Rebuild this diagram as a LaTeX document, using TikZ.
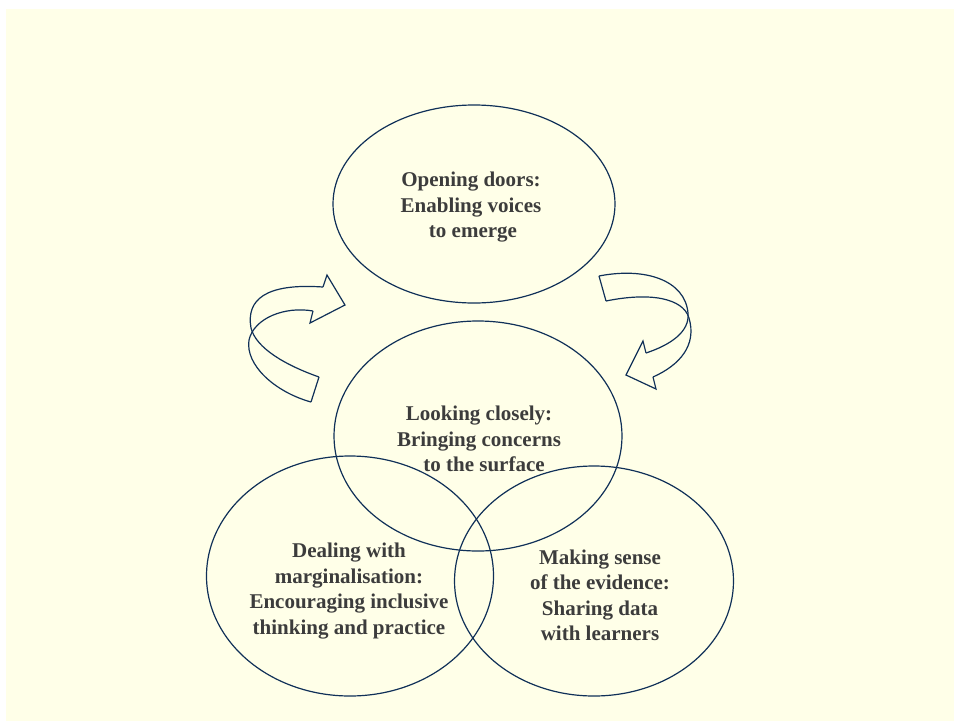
\documentclass[tikz,border=0pt]{standalone}
\usepackage{fontspec}
\setmainfont{Liberation Serif}
\usetikzlibrary{shapes.geometric}
\definecolor{bgyellow}{RGB}{255,255,232}
\definecolor{navy}{RGB}{16,48,88}
\definecolor{txtgray}{RGB}{60,60,60}
\tikzset{
  ring/.style={ellipse, draw=navy, line width=1.2pt, inner sep=0pt, outer sep=0pt},
  label/.style={align=center, text=txtgray, inner sep=0pt, font=\fontsize{21}{25.5}\selectfont\bfseries},
  arrowline/.style={draw=navy, line width=1.2pt, line join=miter}
}
\begin{document}
\begin{tikzpicture}[x=1pt,y=-1pt]
\useasboundingbox (0,0) rectangle (954,721);
\fill[bgyellow] (6,9) rectangle (954,721);
% ellipses
\node[ring, minimum width=282pt, minimum height=198pt] (top) at (474,204) {};
\node[ring, minimum width=288pt, minimum height=230pt] (mid) at (478,436) {};
\node[ring, minimum width=287pt, minimum height=240pt] (bl) at (350,576) {};
\node[ring, minimum width=279pt, minimum height=230pt] (br) at (594,581) {};
% texts
\node[label] (ttop) at (471,207.5) {Opening doors:\\Enabling voices\\\hspace*{4pt}to emerge};
\node[label] (tmid) at (479,439) {Looking closely:\\Bringing concerns\\\hspace*{10pt}to the surface};
\node[label] (tbl) at (349,591) {Dealing with\\marginalisation:\\Encouraging inclusive\\thinking and practice};
\node[label] (tbr) at (600,595.5) {Making sense\\of the evidence:\\Sharing data\\with learners};
% left curved arrow
\draw[arrowline] (319,377) -- (311,402);
\draw[arrowline] (323,287) .. controls (265,283) and (246,300) .. (251,328)
                           .. controls (256,348) and (285,365) .. (319,377);
\draw[arrowline] (313,311) .. controls (285,306) and (254,318) .. (249,340)
                           .. controls (245,365) and (275,392) .. (311,402);
\draw[arrowline] (323,287) -- (327,275) -- (345,305) -- (310,323) -- (313,311);
% right curved arrow
\draw[arrowline] (599,276) -- (606,301);
\draw[arrowline] (599,276) .. controls (645,267) and (685,280) .. (688,313)
                           .. controls (690,332) and (670,345) .. (646,353);
\draw[arrowline] (606,301) .. controls (650,292) and (683,298) .. (689,318)
                           .. controls (697,345) and (680,365) .. (653,377);
\draw[arrowline] (653,377) -- (656,389) -- (626,375) -- (643,341) -- (646,353);
\end{tikzpicture}
\end{document}
